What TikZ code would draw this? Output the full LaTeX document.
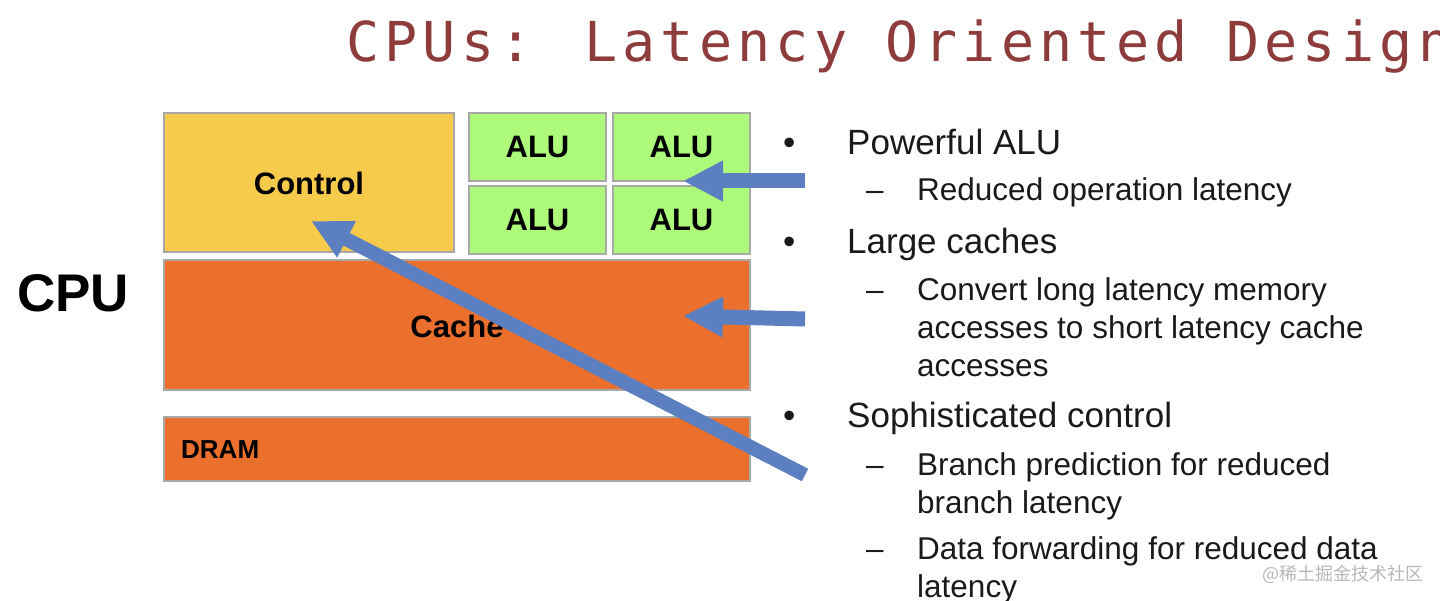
\documentclass[tikz,border=0pt]{standalone}
\usepackage{fontspec}
\setmainfont{Liberation Sans}
\newfontfamily\titlefont[LetterSpace=9.6]{DejaVu Sans Mono}
\newfontfamily\cjkfont{Noto Sans CJK SC}
\usetikzlibrary{arrows.meta,calc}
\definecolor{ctrlY}{HTML}{F6CB4C}
\definecolor{aluG}{HTML}{ADFA7A}
\definecolor{cacheO}{HTML}{EB702E}
\definecolor{boxB}{HTML}{A8A8A8}
\definecolor{arrB}{HTML}{5B7FC0}
\definecolor{titleR}{HTML}{8E3B3B}
\definecolor{txtK}{HTML}{1A1A1A}
\tikzset{
  blk/.style={draw=boxB, line width=2pt},
  lbl/.style={font=\fontsize{31}{31}\selectfont\bfseries, text=black, inner sep=0pt},
  lvlone/.style={anchor=base west, inner sep=0pt, text=txtK, font=\fontsize{35}{35}\selectfont},
  lvltwo/.style={anchor=base west, inner sep=0pt, text=txtK, font=\fontsize{31.5}{31.5}\selectfont},
  bigarrow/.style={draw=arrB, line width=15pt, -{Triangle[width=38pt,length=40pt]}, arrB},
}
\begin{document}
\begin{tikzpicture}[x=1pt,y=-1pt]
\clip (0,0) rectangle (1440,601);
\fill[white] (0,0) rectangle (1440,601);
% title
\node[anchor=base west, inner sep=0pt, text=titleR, font=\titlefont\fontsize{55}{55}\selectfont] (title) at (346,62) {CPUs: Latency Oriented Design};
% boxes
\fill[ctrlY] (164,113) rectangle (454,252);
\draw[blk] (164,113) rectangle (454,252);
\node[lbl] (ctrl) at (309,183) {Control};
\foreach \x/\y/\n in {469/113/a,613/113/b,469/186/c,613/186/d}{
  \fill[aluG] (\x,\y) rectangle ++(137,68);
  \draw[blk] (\x,\y) rectangle ++(137,68);
  \node[lbl] (alu\n) at ($(\x,\y)+(68.5,34)$) {ALU};
}
\fill[cacheO] (164,260) rectangle (750,390);
\draw[blk] (164,260) rectangle (750,390);
\node[lbl] (cache) at (457,326) {Cache};
\fill[cacheO] (164,417) rectangle (750,481);
\draw[blk] (164,417) rectangle (750,481);
\node[anchor=west, inner sep=0pt, font=\fontsize{26}{26}\selectfont\bfseries] (dram) at (181,450) {DRAM};
\node[inner sep=0pt, font=\fontsize{53}{53}\selectfont\bfseries] (cpu) at (73,293) {CPU};
% arrows
\coordinate (a1s) at (805,181);
\coordinate (a1e) at (683,181);
\coordinate (a2s) at (805,319);
\coordinate (a2e) at (683,316);
\coordinate (a3s) at (805,475);
\coordinate (a3e) at (311,221);
\draw[bigarrow] (a1s) -- (a1e);
\draw[bigarrow] (a2s) -- (a2e);
\draw[bigarrow, line width=14pt] (a3s) -- (a3e);
% bullets
\node[lvlone] (b1) at (783,155) {•};
\node[lvlone] (t1) at (847,155) {Powerful ALU};
\node[lvltwo] (d1) at (866,201) {–};
\node[lvltwo] (t2) at (917,201) {Reduced operation latency};
\node[lvlone] (b2) at (783,254) {•};
\node[lvlone] (t3) at (847,254) {Large caches};
\node[lvltwo] (d2) at (866,301) {–};
\node[lvltwo] (t4) at (917,301) {Convert long latency memory};
\node[lvltwo] (t5) at (917,339) {accesses to short latency cache};
\node[lvltwo] (t6) at (917,377) {accesses};
\node[lvlone] (b3) at (783,427) {•};
\node[lvlone] (t7) at (847,427) {Sophisticated control};
\node[lvltwo] (d3) at (866,475) {–};
\node[lvltwo] (t8) at (917,475) {Branch prediction for reduced};
\node[lvltwo] (t9) at (917,513) {branch latency};
\node[lvltwo] (d4) at (866,559) {–};
\node[lvltwo] (t10) at (917,559) {Data forwarding for reduced data};
\node[lvltwo] (t11) at (917,597) {latency};
% watermark
\node[anchor=base west, inner sep=0pt, text=black!28, font=\cjkfont\fontsize{18}{18}\selectfont] (wm) at (1262,580) {@稀土掘金技术社区};
\end{tikzpicture}
\end{document}
